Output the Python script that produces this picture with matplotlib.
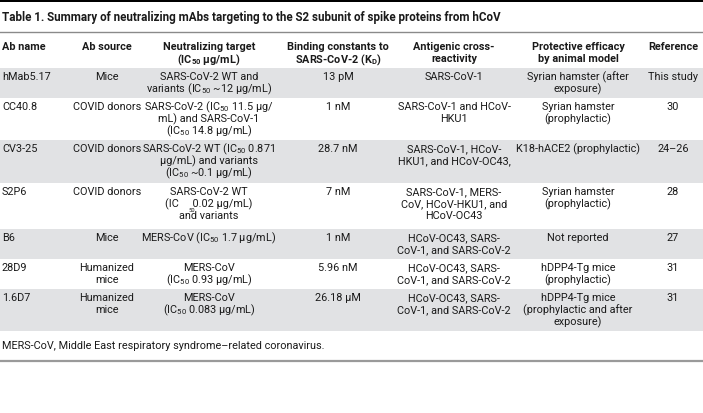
import matplotlib
matplotlib.use("Agg")
import matplotlib.pyplot as plt
from matplotlib.patches import Rectangle

# ---------------- data ----------------
title = "Table 1. Summary of neutralizing mAbs targeting to the S2 subunit of spike proteins from hCoV"
headers = [
    ["Ab name"],
    ["Ab source"],
    ["Neutralizing target", r"(IC$\mathregular{_{50}}$ µg/mL)"],
    ["Binding constants to", r"SARS-CoV-2 (K$\mathregular{_D}$)"],
    ["Antigenic cross-", "reactivity"],
    ["Protective efficacy", "by animal model"],
    ["Reference"],
]
ab_names = ["hMab5.17", "CC40.8", "CV3-25", "S2P6", "B6", "28D9", "1.6D7"]
ab_sources = [["Mice"], ["COVID donors"], ["COVID donors"], ["COVID donors"],
              ["Mice"], ["Humanized", "mice"], ["Humanized", "mice"]]
targets = [
    ["SARS-CoV-2 WT and", r"variants (IC$\mathregular{_{50}}$ ~12 µg/mL)"],
    [r"SARS-CoV-2 (IC$\mathregular{_{50}}$ 11.5 µg/", "mL) and SARS-CoV-1", r"(IC$\mathregular{_{50}}$ 14.8 µg/mL)"],
    [r"SARS-CoV-2 WT (IC$\mathregular{_{50}}$ 0.871", "µg/mL) and variants", r"(IC$\mathregular{_{50}}$ ~0.1 µg/mL)"],
    ["SARS-CoV-2 WT", "(IC     0.02 µg/mL)", "and variants"],
    [r"MERS-CoV (IC$\mathregular{_{50}}$ 1.7 µg/mL)"],
    ["MERS-CoV", r"(IC$\mathregular{_{50}}$ 0.93 µg/mL)"],
    ["MERS-CoV", r"(IC$\mathregular{_{50}}$ 0.083 µg/mL)"],
]
binding = ["13 pM", "1 nM", "28.7 nM", "7 nM", "1 nM", "5.96 nM", "26.18 µM"]
cross = [
    ["SARS-CoV-1"],
    ["SARS-CoV-1 and HCoV-", "HKU1"],
    ["SARS-CoV-1, HCoV-", "HKU1, and HCoV-OC43,"],
    ["SARS-CoV-1, MERS-", "CoV, HCoV-HKU1, and", "HCoV-OC43"],
    ["HCoV-OC43, SARS-", "CoV-1, and SARS-CoV-2"],
    ["HCoV-OC43, SARS-", "CoV-1, and SARS-CoV-2"],
    ["HCoV-OC43, SARS-", "CoV-1, and SARS-CoV-2"],
]
efficacy = [
    ["Syrian hamster (after", "exposure)"],
    ["Syrian hamster", "(prophylactic)"],
    ["K18-hACE2 (prophylactic)"],
    ["Syrian hamster", "(prophylactic)"],
    ["Not reported"],
    ["hDPP4-Tg mice", "(prophylactic)"],
    ["hDPP4-Tg mice", "(prophylactic and after", "exposure)"],
]
refs = ["This study", "30", "24–26", "28", "27", "31", "31"]
footnote = "MERS-CoV, Middle East respiratory syndrome–related coronavirus."

# ---------------- layout ----------------
W, H = 703, 414
col_x = [2, 107, 209, 338, 454, 578, 673]
col_ha = ["left", "center", "center", "center", "center", "center", "center"]
row_edges = [69, 99, 141, 184, 230, 260, 290, 332]
line_h = 12.2
shade = "#e1e2e4"
txt_color = "#1a1a1a"
FONT = ["Roboto", "DejaVu Sans"]
FS = 7.8

plt.rcParams['font.family'] = FONT
plt.rcParams['mathtext.default'] = 'regular'

fig = plt.figure(figsize=(W / 100, H / 100), dpi=100)
ax = fig.add_axes([0, 0, 1, 1])
ax.set_xlim(0, W)
ax.set_ylim(H, 0)
ax.axis('off')

# top black bar
ax.add_patch(Rectangle((0, 0), W, 3, color="black", lw=0))
# title
ax.text(2, 18, title, fontsize=8.4, fontweight="bold", va="center", ha="left",
        color=txt_color)
ax.plot([0, W], [32.5, 32.5], color="#8a8a8a", lw=1.0)

# headers
for x, ha, lines in zip(col_x, col_ha, headers):
    for i, s in enumerate(lines):
        ax.text(x, 47 + i * line_h, s, fontsize=FS, fontweight="bold",
                ha=ha, va="center", color=txt_color)

# shaded rows
for r in range(len(ab_names)):
    if r % 2 == 0:
        ax.add_patch(Rectangle((0, row_edges[r]), W, row_edges[r + 1] - row_edges[r],
                               color=shade, lw=0))

# body
columns = [[[n] for n in ab_names], ab_sources, targets, [[b] for b in binding],
           cross, efficacy, [[r] for r in refs]]
for c, (x, ha, col) in enumerate(zip(col_x, col_ha, columns)):
    for r, lines in enumerate(col):
        y0 = row_edges[r] + 8
        for i, s in enumerate(lines):
            ax.text(x, y0 + i * line_h, s, fontsize=FS, ha=ha, va="center",
                    color=txt_color)

# detached subscript in S2P6 row
ax.text(192, row_edges[3] + 8 + 1.55 * line_h, "50", fontsize=4.2, ha="center",
        va="center", color=txt_color)

# footnote
ax.text(2, 346, footnote, fontsize=FS, ha="left", va="center", color=txt_color)
ax.plot([0, W], [362, 362], color="#9a9a9a", lw=1.6)

fig.savefig("out.png", dpi=100)
